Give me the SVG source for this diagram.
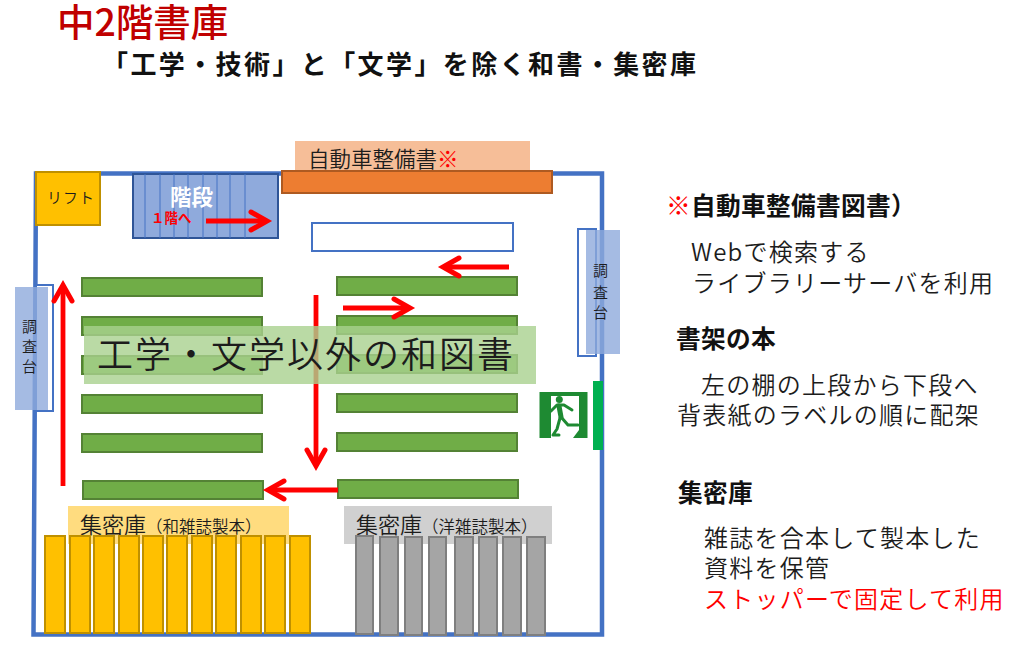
<svg xmlns="http://www.w3.org/2000/svg" width="1027" height="659" viewBox="0 0 1027 659">
<style>
text{font-family:"Noto Sans CJK JP","Noto Sans",sans-serif;fill:#1c1c1c;font-weight:350}
.sh{fill:#70AD47;stroke:#548235;stroke-width:2}
.y{fill:#FFC000;stroke:#BF9000;stroke-width:2}
.g{fill:#A5A5A5;stroke:#7F7F7F;stroke-width:2}
.a{fill:none;stroke:#FF0000;stroke-width:4.8;marker-end:url(#ah)}
.st{stroke:#4472C4;stroke-width:1;fill:none}
.r{font-size:24px;letter-spacing:1.25px}
text.h{font-size:24.7px;font-weight:700;fill:#111;letter-spacing:.3px}
.v{font-size:15px}
.m{fill:none;stroke:#1E8A32;stroke-linecap:round;stroke-linejoin:round}
</style>
<defs><marker id="ah" markerUnits="userSpaceOnUse" markerWidth="34" markerHeight="30" refX="24" refY="12" orient="auto" viewBox="0 0 34 30"><path d="M8 3L24 12L8 21" fill="none" stroke="#FF0000" stroke-width="5" stroke-linecap="round"/></marker></defs>
<rect width="1027" height="659" fill="#fff"/>
<text x="57" y="36" font-size="37.5" style="fill:#C00000;font-weight:500">中2階書庫</text>
<text x="102" y="74" font-size="26" letter-spacing="2.4" style="fill:#111;font-weight:700">「工学・技術」と「文学」を除く和書・集密庫</text>
<path id="walls" d="M36 173.5H602V634.5H33.5Z" fill="none" stroke="#4472C4" stroke-width="4.5"/>
<g id="lift"><rect x="36" y="172" width="64" height="53" class="y"/><text x="47" y="203" font-size="15" letter-spacing="1">リフト</text></g>
<g id="stairs"><rect x="133" y="174" width="145" height="64" fill="#8FAADC" stroke="#2F5597" stroke-width="2"/>
<path class="st" d="M145 174V238M160 174V238M174 174V238M188 174V238M203 174V238M217 174V238M230 174V238M245 174V238"/>
<text x="170" y="205" font-size="21.5" style="fill:#fff;font-weight:700">階段</text>
<text x="151" y="223" font-size="13.5" style="fill:#FF0000;font-weight:700">１階へ</text></g>
<g id="auto"><rect x="295" y="141" width="235" height="30" fill="#F6BE98"/><rect x="282" y="171" width="270" height="22" fill="#ED7D31" stroke="#AE5A21" stroke-width="2"/>
<text x="308" y="167" font-size="21.5">自動車整備書<tspan style="fill:#FF0000">※</tspan></text></g>
<rect id="blank" x="312" y="223" width="201" height="28" fill="#fff" stroke="#4472C4" stroke-width="2"/>
<g id="shelves-left"><rect x="82" y="278" width="180" height="18" class="sh"/><rect x="82" y="317" width="180" height="18" class="sh"/><rect x="82" y="356" width="180" height="18" class="sh"/><rect x="82" y="395" width="180" height="18" class="sh"/><rect x="82" y="434" width="180" height="18" class="sh"/><rect x="83" y="481" width="180" height="18" class="sh"/></g>
<g id="shelves-right"><rect x="337" y="277" width="180" height="18" class="sh"/><rect x="337" y="316" width="180" height="18" class="sh"/><rect x="337" y="355" width="180" height="18" class="sh"/><rect x="337" y="394" width="180" height="18" class="sh"/><rect x="337" y="433" width="180" height="18" class="sh"/><rect x="338" y="480" width="180" height="18" class="sh"/></g>
<g id="desk-left"><rect x="36" y="285" width="17" height="126" fill="#fff" stroke="#4472C4" stroke-width="2"/><rect x="15" y="287" width="33" height="123" fill="#8FAADC" fill-opacity=".8"/><text class="v" x="22" y="332">調</text><text class="v" x="22" y="352">査</text><text class="v" x="22" y="372">台</text></g>
<g id="desk-right"><rect x="578" y="229" width="18" height="127" fill="#fff" stroke="#4472C4" stroke-width="2"/><rect x="586" y="230" width="34" height="124" fill="#8FAADC" fill-opacity=".8"/><text class="v" x="593" y="276">調</text><text class="v" x="593" y="298">査</text><text class="v" x="593" y="318">台</text></g>
<g id="connectors">
<path class="a" d="M63 486V285"/><path class="a" d="M206 221H267"/><path class="a" d="M509 267H443"/><path class="a" d="M343 308H410"/><path class="a" d="M316 295V466"/><path class="a" d="M338 490H268"/>
</g>
<g id="general"><rect x="84" y="326" width="452" height="58" fill="#A9D18E" fill-opacity=".8"/><text x="97" y="368" font-size="36" letter-spacing="2">工学・文学以外の和図書</text></g>
<g id="exit"><path d="M539.5 392H587.5V438H573L579 430V396H551V438H539.5Z" fill="#1E8A32"/><circle cx="559.3" cy="399.5" r="3.5" fill="#1E8A32"/><path class="m" stroke-width="5" d="M559 406L561 417"/><path class="m" stroke-width="3" d="M551 411L557 405H564L572 410M561 417L568 425H578M560 418L557 429L553 435H559"/><rect x="593" y="381" width="10" height="69" fill="#00B050"/></g>
<g id="stack-j"><rect x="68" y="506" width="221" height="38" fill="#FFDC7F"/><text x="80" y="533" font-size="22">集密庫<tspan font-size="16.5">（和雑誌製本）</tspan></text>
<rect x="45" y="536" width="20" height="97" class="y"/><rect x="70" y="536" width="20" height="97" class="y"/><rect x="94" y="536" width="20" height="97" class="y"/><rect x="119" y="536" width="20" height="97" class="y"/><rect x="143" y="536" width="20" height="97" class="y"/><rect x="167" y="536" width="20" height="97" class="y"/><rect x="192" y="536" width="20" height="97" class="y"/><rect x="216" y="536" width="20" height="97" class="y"/><rect x="241" y="536" width="20" height="97" class="y"/><rect x="265" y="536" width="20" height="97" class="y"/><rect x="290" y="536" width="20" height="97" class="y"/></g>
<g id="stack-w"><rect x="344" y="506" width="208" height="38" fill="#D0D0D0"/><text x="356" y="533" font-size="22">集密庫<tspan font-size="16.5">（洋雑誌製本）</tspan></text>
<rect x="356" y="536" width="17" height="98" class="g"/><rect x="380" y="537" width="18" height="98" class="g"/><rect x="405" y="537" width="17" height="98" class="g"/><rect x="429" y="537" width="17" height="98" class="g"/><rect x="455" y="537" width="18" height="98" class="g"/><rect x="479" y="537" width="18" height="98" class="g"/><rect x="503" y="537" width="18" height="98" class="g"/><rect x="527" y="537" width="18" height="98" class="g"/></g>
<g id="notes">
<text class="h" x="666" y="215"><tspan style="fill:#FF0000">※</tspan>自動車整備書図書）</text>
<text class="r" x="691" y="261">Webで検索する</text>
<text class="r" x="692" y="292">ライブラリーサーバを利用</text>
<text class="h" x="676" y="348">書架の本</text>
<text class="r" x="701" y="394">左の棚の上段から下段へ</text>
<text class="r" x="677" y="424">背表紙のラベルの順に配架</text>
<text class="h" x="678" y="502">集密庫</text>
<text class="r" x="704" y="547">雑誌を合本して製本した</text>
<text class="r" x="704" y="577">資料を保管</text>
<text class="r" x="704" y="608" style="fill:#FF0000">ストッパーで固定して利用</text>
</g>
</svg>
